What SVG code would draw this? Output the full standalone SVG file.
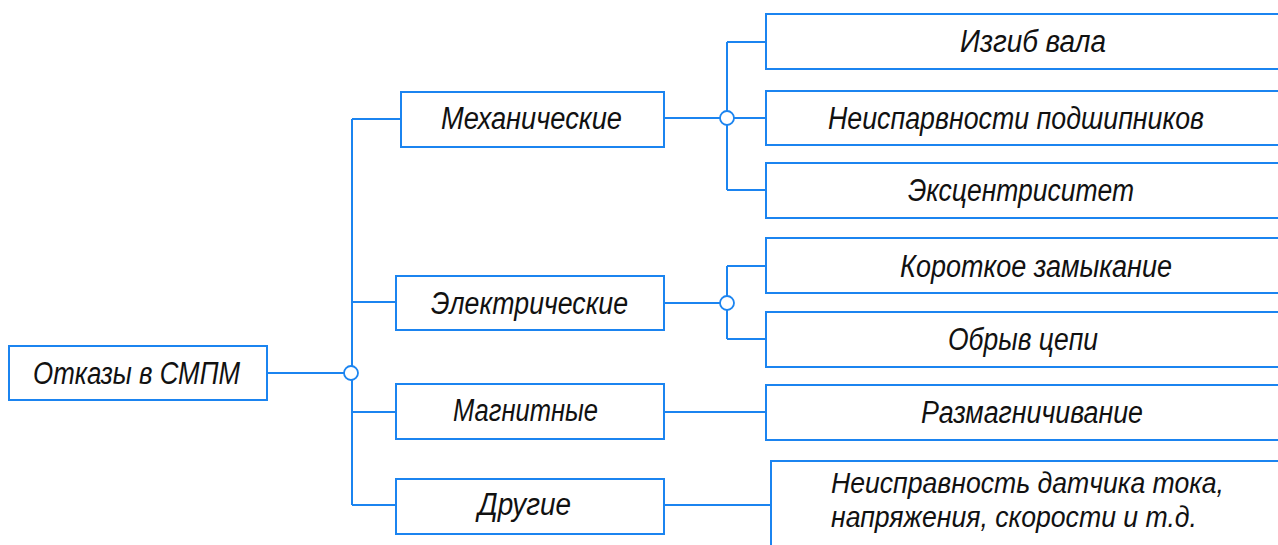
<svg xmlns="http://www.w3.org/2000/svg" width="1278" height="545" viewBox="0 0 1278 545">
  <style>
    .box { fill: #ffffff; stroke: #1b84f0; stroke-width: 2; }
    .wire { fill: none; stroke: #1b84f0; stroke-width: 2; }
    .hub { fill: #ffffff; stroke: #1b84f0; stroke-width: 1.8; }
    .lbl { font-family: "Liberation Sans", "DejaVu Sans Condensed", sans-serif; font-style: italic; font-size: 31px; fill: #111111; }
    .small { font-size: 30px; }
  </style>
  <rect width="1278" height="545" fill="#ffffff"/>

  <!-- connectors -->
  <g id="connectors">
    <path class="wire" d="M267,373 H352"/>
    <path class="wire" d="M352,119 V505"/>
    <path class="wire" d="M352,119 H401 M352,302 H396 M352,412 H396 M352,505 H396"/>
    <path class="wire" d="M664,118 H727 M727,42 V190 M727,42 H766 M727,118 H766 M727,190 H766"/>
    <path class="wire" d="M664,303 H727 M727,266 V339 M727,266 H766 M727,339 H766"/>
    <path class="wire" d="M664,412 H766"/>
    <path class="wire" d="M664,505 H771"/>
    <circle class="hub" cx="351" cy="373" r="7"/>
    <circle class="hub" cx="727" cy="118" r="7"/>
    <circle class="hub" cx="727" cy="303" r="7"/>
  </g>

  <!-- root -->
  <g id="root">
    <rect class="box" x="9" y="346" width="258" height="54"/>
    <text class="lbl" x="33" y="384" textLength="207" lengthAdjust="spacingAndGlyphs">Отказы в СМПМ</text>
  </g>

  <!-- categories -->
  <g id="mechanical">
    <rect class="box" x="401" y="92" width="263" height="55"/>
    <text class="lbl" x="441" y="129" textLength="181" lengthAdjust="spacingAndGlyphs">Механические</text>
  </g>
  <g id="electrical">
    <rect class="box" x="396" y="276" width="268" height="54"/>
    <text class="lbl" x="431" y="314" textLength="197" lengthAdjust="spacingAndGlyphs">Электрические</text>
  </g>
  <g id="magnetic">
    <rect class="box" x="396" y="384" width="268" height="55"/>
    <text class="lbl" x="453" y="421" textLength="145" lengthAdjust="spacingAndGlyphs">Магнитные</text>
  </g>
  <g id="other">
    <rect class="box" x="396" y="479" width="268" height="55"/>
    <text class="lbl" x="478" y="515" textLength="93" lengthAdjust="spacingAndGlyphs">Другие</text>
  </g>

  <!-- failure types (boxes run past the right edge) -->
  <g id="shaft-bend">
    <rect class="box" x="766" y="14" width="530" height="55"/>
    <text class="lbl" x="960" y="52" textLength="146" lengthAdjust="spacingAndGlyphs">Изгиб вала</text>
  </g>
  <g id="bearings">
    <rect class="box" x="766" y="91" width="530" height="54"/>
    <text class="lbl" x="828" y="129" textLength="376" lengthAdjust="spacingAndGlyphs">Неиспарвности подшипников</text>
  </g>
  <g id="eccentricity">
    <rect class="box" x="766" y="163" width="530" height="55"/>
    <text class="lbl" x="908" y="201" textLength="226" lengthAdjust="spacingAndGlyphs">Эксцентриситет</text>
  </g>
  <g id="short-circuit">
    <rect class="box" x="766" y="238" width="530" height="55"/>
    <text class="lbl" x="900" y="277" textLength="272" lengthAdjust="spacingAndGlyphs">Короткое замыкание</text>
  </g>
  <g id="open-circuit">
    <rect class="box" x="766" y="312" width="530" height="55"/>
    <text class="lbl" x="948" y="350" textLength="150" lengthAdjust="spacingAndGlyphs">Обрыв цепи</text>
  </g>
  <g id="demagnetization">
    <rect class="box" x="766" y="385" width="530" height="55"/>
    <text class="lbl" x="921" y="423" textLength="222" lengthAdjust="spacingAndGlyphs">Размагничивание</text>
  </g>
  <g id="sensor-fault">
    <path class="wire" d="M1278,461 H771 V545"/>
    <text class="lbl small" x="831" y="493" textLength="393" lengthAdjust="spacingAndGlyphs">Неисправность датчика тока,</text>
    <text class="lbl small" x="831" y="527" textLength="366" lengthAdjust="spacingAndGlyphs">напряжения, скорости и т.д.</text>
  </g>
</svg>
